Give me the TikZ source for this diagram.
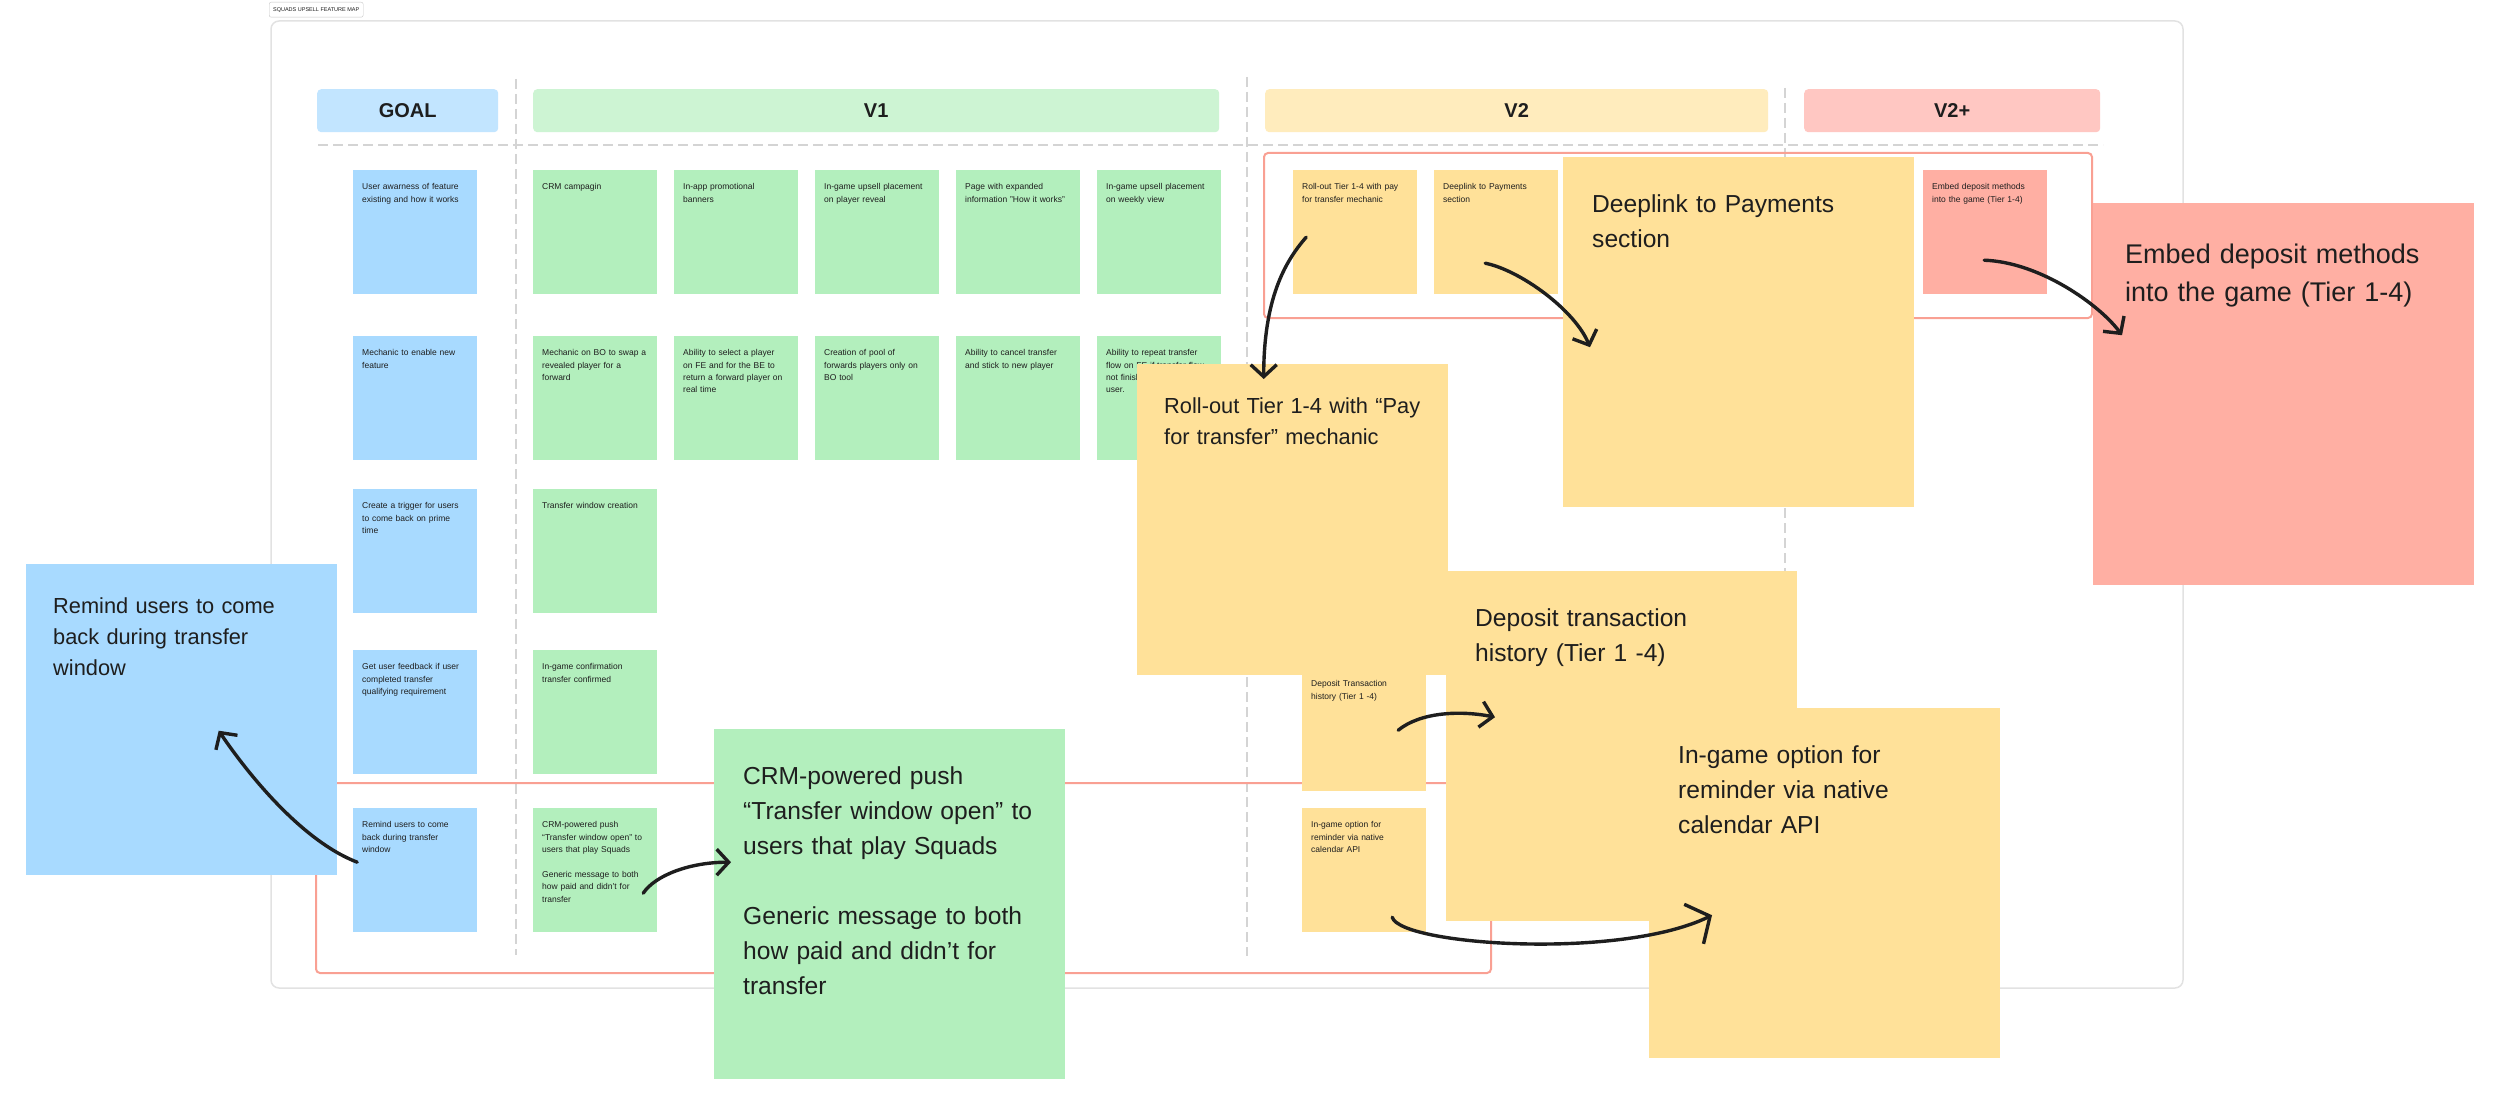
\documentclass[tikz,border=0pt]{standalone}
\usepackage{fontspec}
\setmainfont{Liberation Sans}
\usetikzlibrary{arrows.meta, positioning, calc}

\definecolor{ink}{HTML}{1E1E1E}
\definecolor{framegray}{HTML}{E2E2E2}
\definecolor{divgray}{HTML}{D4D4D4}
\definecolor{groupred}{HTML}{F9A093}
\definecolor{goalhead}{HTML}{C2E5FF}
\definecolor{v1head}{HTML}{CDF4D3}
\definecolor{v2head}{HTML}{FFECBD}
\definecolor{v3head}{HTML}{FFC7C2}
\definecolor{stickyblue}{HTML}{A8DAFF}
\definecolor{stickygreen}{HTML}{B3EFBD}
\definecolor{stickyyellow}{HTML}{FFE199}
\definecolor{stickyred}{HTML}{FFAFA3}

\begin{document}
\begin{tikzpicture}[
    x=1pt, y=-1pt,
    sticky/.style={anchor=north west, align=left, text=ink, inner ysep=0pt},
    smallnote/.style={sticky, inner xsep=9pt, text width=106pt, text height=19.5pt, text depth=104.5pt, font=\fontsize{8.5}{12.4}\selectfont},
    midnote/.style={sticky, inner xsep=27pt, text width=257pt, text height=49pt, text depth=262pt, font=\fontsize{21.8}{31}\selectfont},
    bignote/.style={sticky, inner xsep=29pt, text width=293pt, text height=55pt, text depth=295pt, font=\fontsize{24.6}{35}\selectfont},
    hugenote/.style={sticky, inner xsep=32pt, text width=317pt, text height=60pt, text depth=322pt, font=\fontsize{27}{38.5}\selectfont},
    header/.style={anchor=north west, rounded corners=4pt, minimum height=43pt, inner sep=0pt, text=ink, font=\fontsize{20}{24}\selectfont\bfseries},
    divider/.style={draw=divgray, line width=2pt, dash pattern=on 10pt off 5pt},
    group/.style={draw=groupred, line width=2pt, rounded corners=4pt},
    hand/.style={draw=ink, line width=3.4pt, line cap=round, line join=round, -{Straight Barb[length=12pt, width=26pt]}}
]
    \useasboundingbox (0,0) rectangle (2500,1113);

    % board
    \draw[framegray, fill=white, line width=1.5pt, rounded corners=8pt] (271,21) rectangle (2183,988);
    \node[anchor=north west, draw=gray!45, fill=white, rounded corners=2pt, minimum width=94pt, minimum height=15pt, inner sep=0pt, text=ink, font=\fontsize{5.5}{6}\selectfont] (title) at (269,2) {SQUADS UPSELL FEATURE MAP};

    % column headers
    \node[header, fill=goalhead, minimum width=181pt] (goal) at (317,89) {GOAL};
    \node[header, fill=v1head, minimum width=686pt] (v1) at (533,89) {V1};
    \node[header, fill=v2head, minimum width=503pt] (v2) at (1265,89) {V2};
    \node[header, fill=v3head, minimum width=296pt] (v2plus) at (1804,89) {V2+};

    \draw[divider] (318,145) -- (2103,145);
    \draw[divider] (516,79) -- (516,955);
    \draw[divider] (1247,77) -- (1247,956);
    \draw[divider] (1785,88) -- (1785,956);

    % grouped rows
    \draw[group] (1264,153) rectangle (2092,318);
    \draw[group] (316,783) rectangle (1491,973);

    % goal column
    \node[smallnote, fill=stickyblue] (gAware) at (353,170) {User awarness of feature\\existing and how it works};
    \node[smallnote, fill=stickyblue] (gMech) at (353,336) {Mechanic to enable new\\feature};
    \node[smallnote, fill=stickyblue] (gTrig) at (353,489) {Create a trigger for users\\to come back on prime\\time};
    \node[smallnote, fill=stickyblue] (gFeed) at (353,650) {Get user feedback if user\\completed transfer\\qualifying requirement};
    \node[smallnote, fill=stickyblue] (gRemind) at (353,808) {Remind users to come\\back during transfer\\window};

    % V1
    \node[smallnote, fill=stickygreen] (cCrm) at (533,170) {CRM campagin};
    \node[smallnote, fill=stickygreen] (cBanner) at (674,170) {In-app promotional\\banners};
    \node[smallnote, fill=stickygreen] (cReveal) at (815,170) {In-game upsell placement\\on player reveal};
    \node[smallnote, fill=stickygreen] (cPage) at (956,170) {Page with expanded\\information "How it works"};
    \node[smallnote, fill=stickygreen] (cWeekly) at (1097,170) {In-game upsell placement\\on weekly view};
    \node[smallnote, fill=stickygreen] (cSwap) at (533,336) {Mechanic on BO to swap a\\revealed player for a\\forward};
    \node[smallnote, fill=stickygreen] (cSelect) at (674,336) {Ability to select a player\\on FE and for the BE to\\return a forward player on\\real time};
    \node[smallnote, fill=stickygreen] (cPool) at (815,336) {Creation of pool of\\forwards players only on\\BO tool};
    \node[smallnote, fill=stickygreen] (cCancel) at (956,336) {Ability to cancel transfer\\and stick to new player};
    \node[smallnote, fill=stickygreen] (cRepeat) at (1097,336) {Ability to repeat transfer\\flow on FE if transfer flow\\not finished by the\\user.};
    \node[smallnote, fill=stickygreen] (cWindow) at (533,489) {Transfer window creation};
    \node[smallnote, fill=stickygreen] (cConfirm) at (533,650) {In-game confirmation\\transfer confirmed};
    \node[smallnote, fill=stickygreen] (cPush) at (533,808) {CRM-powered push\\“Transfer window open” to\\users that play Squads\\[12.4pt]Generic message to both\\how paid and didn’t for\\transfer};

    % V2 and V2+
    \node[smallnote, fill=stickyyellow] (vRoll) at (1293,170) {Roll-out Tier 1-4 with pay\\for transfer mechanic};
    \node[smallnote, fill=stickyyellow] (vDeep) at (1434,170) {Deeplink to Payments\\section};
    \node[smallnote, fill=stickyred] (vEmbed) at (1923,170) {Embed deposit methods\\into the game (Tier 1-4)};
    \node[smallnote, fill=stickyyellow] (vDepo) at (1302,667) {Deposit Transaction\\history (Tier 1 -4)};
    \node[smallnote, fill=stickyyellow] (vCal) at (1302,808) {In-game option for\\reminder via native\\calendar API};

    % enlarged copies
    \node[midnote, fill=stickyblue] (bRemind) at (26,564) {Remind users to come\\back during transfer\\window};
    \node[bignote, fill=stickygreen] (bPush) at (714,729) {CRM-powered push\\“Transfer window open” to\\users that play Squads\\[35pt]Generic message to both\\how paid and didn’t for\\transfer};
    \node[bignote, fill=stickyyellow] (bDeep) at (1563,157) {Deeplink to Payments\\section};
    \node[hugenote, fill=stickyred] (bEmbed) at (2093,203) {Embed deposit methods\\into the game (Tier 1-4)};
    \node[bignote, fill=stickyyellow] (bDepo) at (1446,571) {Deposit transaction\\history (Tier 1 -4)};
    \node[midnote, fill=stickyyellow] (bRoll) at (1137,364) {Roll-out Tier 1-4 with “Pay\\for transfer” mechanic};
    \node[bignote, fill=stickyyellow] (bCal) at (1649,708) {In-game option for\\reminder via native\\calendar API};

    % hand drawn pointers
    \draw[hand] ($(vRoll.center)+(-49,5)$) .. controls +(-22,25) and +(0,-79) .. ($(bRoll.north)+(-29,15)$);
    \draw[hand] ($(vDeep.center)+(-11,31)$) .. controls +(35,7) and +(-15,-37) .. ($(bDeep.west)+(27,15)$);
    \draw[hand] ($(vEmbed.center)+(-1,28)$) .. controls +(56,2) and +(-22,-30) .. ($(bEmbed.west)+(29,-59)$);
    \draw[hand] ($(vDepo.center)+(34,1)$) .. controls +(22,-18) and +(-35,-7) .. ($(bDepo.west)+(49,-29)$);
    \draw[hand, -{Straight Barb[length=18pt, width=44pt]}] ($(vCal.center)+(28,47)$) .. controls +(8,28) and +(-92,45) .. ($(bCal.west)+(63,32)$);
    \draw[hand] ($(cPush.center)+(48,23)$) .. controls +(12,-18) and +(-41,0) .. ($(bPush.west)+(17,-42)$);
    \draw[hand] ($(gRemind.center)+(-58,-8)$) .. controls +(-57,-22) and +(27,40) .. ($(bRemind.center)+(37,11)$);
\end{tikzpicture}
\end{document}
